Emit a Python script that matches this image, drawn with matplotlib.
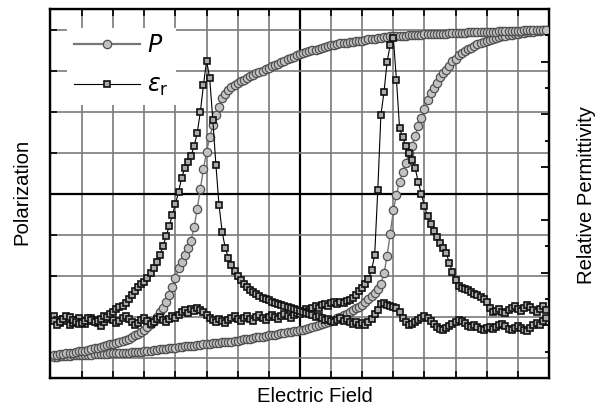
import numpy as np
import matplotlib
matplotlib.use('Agg')
import matplotlib.pyplot as plt
from matplotlib.lines import Line2D

plt.rcParams['font.family'] = ['Liberation Sans', 'DejaVu Sans']
plt.rcParams['mathtext.fontset'] = 'dejavusans'

# Field sweep set points (arb. units)
field = [
    -7.9, -7.8, -7.7, -7.6, -7.5, -7.4, -7.3, -7.2, -7.1, -7.0,
    -6.9, -6.8, -6.7, -6.6, -6.5, -6.4, -6.3, -6.2, -6.1, -6.0,
    -5.9, -5.8, -5.7, -5.6, -5.5, -5.4, -5.3, -5.2, -5.1, -5.0,
    -4.9, -4.8, -4.7, -4.6, -4.5, -4.4, -4.3, -4.2, -4.1, -4.0,
    -3.9, -3.8, -3.7, -3.6, -3.5, -3.4, -3.3, -3.2, -3.1, -3.0,
    -2.9, -2.8, -2.7, -2.6, -2.5, -2.4, -2.3, -2.2, -2.1, -2.0,
    -1.9, -1.8, -1.7, -1.6, -1.5, -1.4, -1.3, -1.2, -1.1, -1.0,
    -0.9, -0.8, -0.7, -0.6, -0.5, -0.4, -0.3, -0.2, -0.1, 0.0,
    0.1, 0.2, 0.3, 0.4, 0.5, 0.6, 0.7, 0.8, 0.9, 1.0,
    1.1, 1.2, 1.3, 1.4, 1.5, 1.6, 1.7, 1.8, 1.9, 2.0,
    2.1, 2.2, 2.3, 2.4, 2.5, 2.6, 2.7, 2.8, 2.9, 3.0,
    3.1, 3.2, 3.3, 3.4, 3.5, 3.6, 3.7, 3.8, 3.9, 4.0,
    4.1, 4.2, 4.3, 4.4, 4.5, 4.6, 4.7, 4.8, 4.9, 5.0,
    5.1, 5.2, 5.3, 5.4, 5.5, 5.6, 5.7, 5.8, 5.9, 6.0,
    6.1, 6.2, 6.3, 6.4, 6.5, 6.6, 6.7, 6.8, 6.9, 7.0,
    7.1, 7.2, 7.3, 7.4, 7.5, 7.6, 7.7, 7.8, 7.9,
]

# Polarization, rising-field branch
pol_up = [
    -3.98, -3.98, -3.97, -3.97, -3.96, -3.96, -3.95, -3.95, -3.95, -3.94,
    -3.94, -3.93, -3.93, -3.92, -3.92, -3.92, -3.91, -3.91, -3.90, -3.90,
    -3.89, -3.89, -3.89, -3.88, -3.88, -3.87, -3.87, -3.86, -3.86, -3.85,
    -3.84, -3.83, -3.82, -3.81, -3.80, -3.80, -3.79, -3.78, -3.77, -3.76,
    -3.75, -3.74, -3.73, -3.72, -3.72, -3.71, -3.70, -3.69, -3.68, -3.67,
    -3.66, -3.65, -3.65, -3.64, -3.63, -3.62, -3.61, -3.61, -3.60, -3.59,
    -3.58, -3.56, -3.55, -3.54, -3.53, -3.51, -3.50, -3.49, -3.48, -3.46,
    -3.45, -3.44, -3.43, -3.41, -3.40, -3.39, -3.38, -3.36, -3.35, -3.34,
    -3.32, -3.30, -3.27, -3.25, -3.23, -3.21, -3.19, -3.16, -3.14, -3.12,
    -3.08, -3.04, -3.01, -2.97, -2.93, -2.89, -2.85, -2.80, -2.76, -2.71,
    -2.65, -2.58, -2.50, -2.42, -2.32, -2.20, -1.95, -1.52, -0.98, -0.41,
    -0.03, 0.29, 0.52, 0.74, 0.98, 1.16, 1.41, 1.64, 1.85, 2.07,
    2.27, 2.44, 2.57, 2.70, 2.85, 2.93, 3.01, 3.11, 3.22, 3.29,
    3.37, 3.43, 3.48, 3.52, 3.56, 3.60, 3.64, 3.67, 3.69, 3.73,
    3.75, 3.77, 3.79, 3.81, 3.83, 3.85, 3.86, 3.87, 3.88, 3.90,
    3.91, 3.92, 3.93, 3.94, 3.95, 3.96, 3.97, 3.98, 3.99,
]

# Polarization, falling-field branch (listed in order of increasing field)
pol_down = [
    -3.94, -3.93, -3.92, -3.91, -3.90, -3.89, -3.88, -3.87, -3.85, -3.84,
    -3.83, -3.81, -3.79, -3.78, -3.76, -3.74, -3.72, -3.70, -3.68, -3.66,
    -3.64, -3.62, -3.60, -3.57, -3.54, -3.50, -3.46, -3.42, -3.38, -3.32,
    -3.26, -3.19, -3.10, -3.00, -2.90, -2.79, -2.64, -2.47, -2.27, -2.07,
    -1.82, -1.66, -1.51, -1.34, -1.15, -0.82, -0.37, 0.12, 0.60, 1.02,
    1.37, 1.66, 1.91, 2.12, 2.32, 2.43, 2.52, 2.59, 2.64, 2.70,
    2.75, 2.78, 2.82, 2.86, 2.90, 2.94, 2.97, 3.00, 3.03, 3.06,
    3.10, 3.14, 3.17, 3.21, 3.24, 3.27, 3.31, 3.34, 3.38, 3.41,
    3.43, 3.45, 3.47, 3.49, 3.51, 3.53, 3.55, 3.57, 3.59, 3.61,
    3.63, 3.65, 3.66, 3.67, 3.68, 3.69, 3.70, 3.71, 3.72, 3.73,
    3.75, 3.76, 3.77, 3.78, 3.79, 3.80, 3.81, 3.82, 3.83, 3.84,
    3.84, 3.85, 3.85, 3.85, 3.86, 3.86, 3.86, 3.87, 3.87, 3.88,
    3.88, 3.88, 3.89, 3.89, 3.90, 3.90, 3.90, 3.91, 3.91, 3.91,
    3.92, 3.92, 3.92, 3.93, 3.93, 3.93, 3.94, 3.94, 3.94, 3.95,
    3.95, 3.95, 3.95, 3.96, 3.96, 3.96, 3.96, 3.97, 3.97, 3.97,
    3.97, 3.98, 3.98, 3.98, 3.98, 3.99, 3.99, 3.99, 3.99,
]

# Relative permittivity, rising-field sweep
eps_up = [
    1.18, 1.10, 1.04, 1.12, 1.08, 1.01, 1.04, 1.10, 1.14, 1.06,
    1.02, 1.08, 1.14, 1.10, 1.04, 0.99, 1.06, 1.12, 1.16, 1.10,
    1.04, 1.08, 1.14, 1.18, 1.12, 1.06, 1.01, 1.04, 1.10, 1.14,
    1.08, 1.02, 1.06, 1.12, 1.16, 1.10, 1.06, 1.12, 1.18, 1.14,
    1.20, 1.25, 1.29, 1.23, 1.31, 1.27, 1.33, 1.29, 1.25, 1.20,
    1.14, 1.10, 1.06, 1.12, 1.08, 1.04, 1.10, 1.14, 1.18, 1.12,
    1.08, 1.14, 1.18, 1.12, 1.08, 1.16, 1.20, 1.14, 1.10, 1.16,
    1.20, 1.16, 1.12, 1.18, 1.21, 1.18, 1.14, 1.20, 1.23, 1.21,
    1.27, 1.31, 1.27, 1.33, 1.37, 1.33, 1.39, 1.40, 1.37, 1.42,
    1.44, 1.40, 1.44, 1.42, 1.46, 1.48, 1.52, 1.57, 1.65, 1.71,
    1.78, 1.88, 2.05, 2.33, 3.57, 4.99, 5.43, 6.00, 6.32, 6.45,
    5.65, 4.74, 4.57, 4.40, 4.27, 4.14, 3.98, 3.72, 3.49, 3.26,
    3.07, 2.92, 2.79, 2.68, 2.56, 2.47, 2.37, 2.18, 2.01, 1.86,
    1.75, 1.71, 1.69, 1.67, 1.63, 1.59, 1.57, 1.54, 1.50, 1.44,
    1.33, 1.25, 1.27, 1.31, 1.25, 1.23, 1.29, 1.33, 1.37, 1.31,
    1.27, 1.33, 1.39, 1.35, 1.29, 1.25, 1.31, 1.37, 1.29,
]

# Relative permittivity, falling-field sweep (listed in order of increasing field)
eps_down = [
    1.08, 1.01, 1.06, 1.12, 1.18, 1.16, 1.10, 1.06, 1.02, 1.04,
    1.08, 1.14, 1.10, 1.06, 1.08, 1.12, 1.18, 1.16, 1.21, 1.25,
    1.31, 1.35, 1.37, 1.42, 1.50, 1.57, 1.65, 1.73, 1.78, 1.82,
    1.90, 1.99, 2.09, 2.20, 2.33, 2.50, 2.69, 2.88, 3.09, 3.30,
    3.53, 3.80, 3.98, 4.10, 4.21, 4.40, 4.65, 5.05, 5.56, 6.02,
    5.69, 4.90, 4.04, 3.28, 2.77, 2.47, 2.28, 2.14, 2.03, 1.94,
    1.86, 1.78, 1.73, 1.67, 1.63, 1.59, 1.56, 1.52, 1.50, 1.48,
    1.44, 1.42, 1.40, 1.39, 1.37, 1.35, 1.33, 1.31, 1.29, 1.27,
    1.25, 1.23, 1.21, 1.20, 1.16, 1.18, 1.14, 1.10, 1.12, 1.08,
    1.06, 1.10, 1.14, 1.08, 1.12, 1.06, 1.02, 1.06, 1.01, 1.04,
    1.01, 1.06, 1.12, 1.21, 1.29, 1.40, 1.42, 1.39, 1.37, 1.35,
    1.33, 1.25, 1.14, 1.06, 1.01, 1.02, 1.06, 1.10, 1.14, 1.18,
    1.14, 1.08, 1.02, 0.97, 0.93, 0.91, 0.95, 0.99, 1.02, 1.06,
    1.10, 1.08, 1.04, 0.99, 0.97, 1.01, 0.97, 0.93, 0.91, 0.95,
    0.97, 0.93, 0.97, 1.01, 1.02, 0.99, 0.93, 0.91, 0.95, 0.99,
    0.95, 0.91, 0.89, 0.95, 1.01, 1.04, 1.01, 1.08, 1.14,
]

grid_ticks = [-7, -6, -5, -4, -3, -2, -1, 0, 1, 2, 3, 4, 5, 6, 7]
pol_ticks = [-4, -3, -2, -1, 0, 1, 2, 3, 4]

fig = plt.figure(figsize=(6.02, 4.09), dpi=100)
ax = fig.add_axes([50 / 602, 1 - 378 / 409, 499 / 602, 369 / 409])
ax.set_xlim(-8.03, 8.0)
ax.set_ylim(-4.5, 4.5)

# grid: grey lines, black axes through the origin
for gx in grid_ticks:
    if gx == 0:
        ax.axvline(gx, color='black', lw=1.6, zorder=1)
    else:
        ax.axvline(gx, color='#7a7a7a', lw=1.2, zorder=1)
for gy in pol_ticks:
    if gy == 0:
        ax.axhline(gy, color='black', lw=1.6, zorder=1)
    else:
        ax.axhline(gy, color='#7a7a7a', lw=1.2, zorder=1)

circle_style = dict(marker='o', markersize=6.0, markerfacecolor='#c2c2c2',
                    markeredgecolor='#505050', markeredgewidth=0.9,
                    color='#777777', lw=1.0)
ax.plot(field, pol_up, zorder=3, **circle_style)
ax.plot(field, pol_down, zorder=3, **circle_style)

ax.set_xticks(grid_ticks)
ax.set_yticks(pol_ticks)
ax.tick_params(direction='in', length=5, width=1.2, top=True, bottom=True,
               left=True, right=False, labelleft=False, labelbottom=False)
for side in ['left', 'right', 'top', 'bottom']:
    ax.spines[side].set_linewidth(1.7)

ax2 = ax.twinx()
ax2.set_ylim(0, 7)
ax2.set_yticks([1, 2, 3, 4, 5, 6])
ax2.set_yticks([0.5, 1.5, 2.5, 3.5, 4.5, 5.5, 6.5], minor=True)
ax2.tick_params(axis='y', which='major', direction='in', length=6, width=1.3, labelright=False)
ax2.tick_params(axis='y', which='minor', direction='in', length=3, width=1.3)

square_style = dict(marker='s', markersize=4.8, markerfacecolor='#aaaaaa',
                    markeredgecolor='#111111', markeredgewidth=1.2,
                    color='black', lw=0.8)
ax2.plot(field, eps_up, zorder=3, **square_style)
ax2.plot(field, eps_down, zorder=3, **square_style)

handles = [Line2D([], [], **circle_style), Line2D([], [], **square_style)]
handles[0].set_linewidth(1.6)
leg = ax2.legend(handles, [r'$P$', r'$\varepsilon_{\mathrm{r}}$'], loc='upper left',
                 bbox_to_anchor=(0.01, 0.98), frameon=True, fontsize=17,
                 handlelength=2.8, handletextpad=0.3, labelspacing=0.75,
                 borderpad=0.3, fancybox=False)
leg.get_frame().set_facecolor('white')
leg.get_frame().set_edgecolor('none')
leg.get_frame().set_alpha(1)

fig.text(315 / 602, 1 - 397 / 409, 'Electric Field', ha='center', va='center', fontsize=14.6)
fig.text(22 / 602, 1 - 192 / 409, 'Polarization', ha='center', va='center',
         rotation=90, fontsize=14.6)
fig.text(586 / 602, 1 - 195 / 409, 'Relative Permittivity', ha='center', va='center',
         rotation=90, fontsize=14.6)

fig.savefig('out.png', dpi=100)
